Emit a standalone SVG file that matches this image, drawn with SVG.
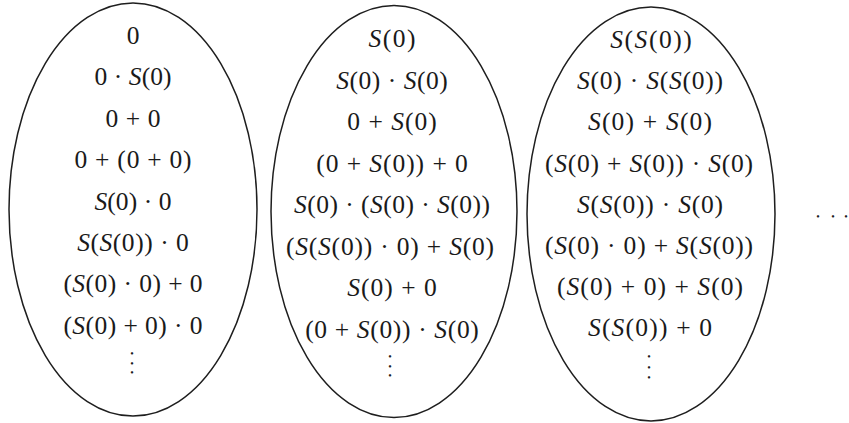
<svg xmlns="http://www.w3.org/2000/svg" width="849" height="423" viewBox="0 0 849 423">
<style>
.bg{fill:#ffffff}
.set{fill:none;stroke:#1e1e1e;stroke-width:1.5}
.t{font-family:"Liberation Serif","Times New Roman",serif;font-size:25.5px;fill:#1a1a1a;text-anchor:middle}
.i{font-style:italic}
.dots{font-family:"Liberation Serif","Times New Roman",serif;font-size:10px;fill:#1a1a1a;text-anchor:middle}
</style>
<rect class="bg" x="0" y="0" width="849" height="423"/>
<g id="connectors"/>
<g id="set0">
<ellipse class="set" cx="133" cy="209.5" rx="124" ry="206.5"/>
<text class="t" x="133" y="44">0</text>
<text class="t" x="133" y="85.4" textLength="77.2" lengthAdjust="spacing">0 · <tspan class="i">S</tspan>(0)</text>
<text class="t" x="133" y="126.8" textLength="55.1" lengthAdjust="spacing">0 + 0</text>
<text class="t" x="133" y="168.2" textLength="117.1" lengthAdjust="spacing">0 + (0 + 0)</text>
<text class="t" x="133" y="209.6" textLength="77.2" lengthAdjust="spacing"><tspan class="i">S</tspan>(0) · 0</text>
<text class="t" x="133" y="251" textLength="111.7" lengthAdjust="spacing"><tspan class="i">S</tspan>(<tspan class="i">S</tspan>(0)) · 0</text>
<text class="t" x="133" y="292.4" textLength="139.2" lengthAdjust="spacing">(<tspan class="i">S</tspan>(0) · 0) + 0</text>
<text class="t" x="133" y="333.8" textLength="139.2" lengthAdjust="spacing">(<tspan class="i">S</tspan>(0) + 0) · 0</text>
<text class="dots" x="132 132 132" y="357.3 366.8 376.3">•••</text>
</g>
<g id="set1">
<ellipse class="set" cx="394" cy="211.5" rx="123" ry="206"/>
<text class="t" x="392" y="47" textLength="46.9" lengthAdjust="spacing"><tspan class="i">S</tspan>(0)</text>
<text class="t" x="392" y="88.5" textLength="111.7" lengthAdjust="spacing"><tspan class="i">S</tspan>(0) · <tspan class="i">S</tspan>(0)</text>
<text class="t" x="392" y="130" textLength="89.6" lengthAdjust="spacing">0 + <tspan class="i">S</tspan>(0)</text>
<text class="t" x="392" y="171.5" textLength="151.6" lengthAdjust="spacing">(0 + <tspan class="i">S</tspan>(0)) + 0</text>
<text class="t" x="392" y="213" textLength="195.8" lengthAdjust="spacing"><tspan class="i">S</tspan>(0) · (<tspan class="i">S</tspan>(0) · <tspan class="i">S</tspan>(0))</text>
<text class="t" x="390" y="254.5" textLength="208.2" lengthAdjust="spacing">(<tspan class="i">S</tspan>(<tspan class="i">S</tspan>(0)) · 0) + <tspan class="i">S</tspan>(0)</text>
<text class="t" x="392" y="296" textLength="89.6" lengthAdjust="spacing"><tspan class="i">S</tspan>(0) + 0</text>
<text class="t" x="392" y="337.5" textLength="173.7" lengthAdjust="spacing">(0 + <tspan class="i">S</tspan>(0)) · <tspan class="i">S</tspan>(0)</text>
<text class="dots" x="390 390 390" y="360.3 369.8 379.3">•••</text>
</g>
<g id="set2">
<ellipse class="set" cx="651" cy="214" rx="124" ry="207"/>
<text class="t" x="651" y="48" textLength="81.4" lengthAdjust="spacing"><tspan class="i">S</tspan>(<tspan class="i">S</tspan>(0))</text>
<text class="t" x="650" y="89.2" textLength="146.2" lengthAdjust="spacing"><tspan class="i">S</tspan>(0) · <tspan class="i">S</tspan>(<tspan class="i">S</tspan>(0))</text>
<text class="t" x="650" y="130.4" textLength="124.1" lengthAdjust="spacing"><tspan class="i">S</tspan>(0) + <tspan class="i">S</tspan>(0)</text>
<text class="t" x="649" y="171.6" textLength="208.2" lengthAdjust="spacing">(<tspan class="i">S</tspan>(0) + <tspan class="i">S</tspan>(0)) · <tspan class="i">S</tspan>(0)</text>
<text class="t" x="650" y="212.8" textLength="146.2" lengthAdjust="spacing"><tspan class="i">S</tspan>(<tspan class="i">S</tspan>(0)) · <tspan class="i">S</tspan>(0)</text>
<text class="t" x="649" y="254" textLength="208.2" lengthAdjust="spacing">(<tspan class="i">S</tspan>(0) · 0) + <tspan class="i">S</tspan>(<tspan class="i">S</tspan>(0))</text>
<text class="t" x="650" y="295.2" textLength="186.1" lengthAdjust="spacing">(<tspan class="i">S</tspan>(0) + 0) + <tspan class="i">S</tspan>(0)</text>
<text class="t" x="650" y="336.4" textLength="124.1" lengthAdjust="spacing"><tspan class="i">S</tspan>(<tspan class="i">S</tspan>(0)) + 0</text>
<text class="dots" x="649 649 649" y="360.3 370.8 381.3">•••</text>
</g>
<g id="more">
<text class="dots" x="818 833 846" y="220.3">•••</text>
</g>
</svg>
